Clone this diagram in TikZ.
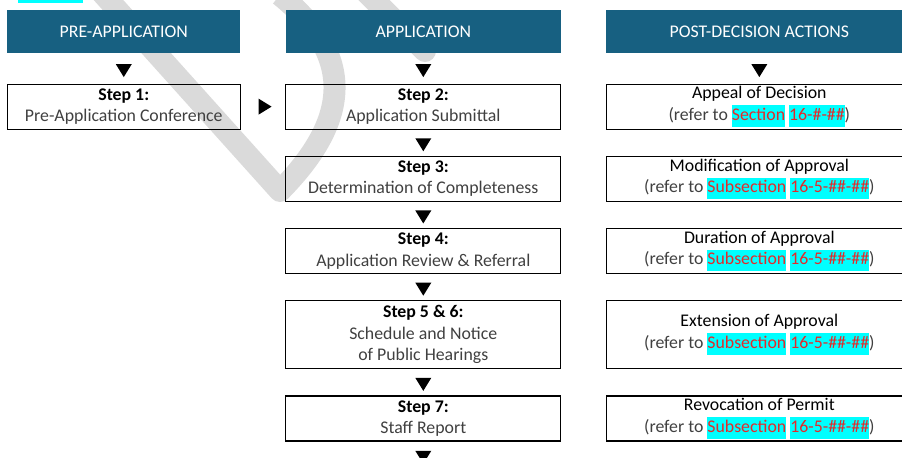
\documentclass[tikz,border=0pt]{standalone}
\usepackage{fontspec}
\setmainfont{Carlito}
\usepackage{tikz}
\usetikzlibrary{positioning,shapes.geometric}
\definecolor{headblue}{RGB}{23,96,129}
\definecolor{subgray}{RGB}{64,64,64}
\definecolor{refred}{RGB}{228,42,42}
\definecolor{hlcyan}{RGB}{0,255,255}
\definecolor{wmgray}{RGB}{218,218,218}
\newcommand{\hl}[1]{{\setlength{\fboxsep}{0pt}\colorbox{hlcyan}{\strut\textcolor{refred}{#1}}}}
\newcommand{\ttl}[1]{\textcolor{black}{#1}}

\begin{document}
\begin{tikzpicture}[x=0.75pt,y=-0.75pt,node distance=19.5pt,
font=\fontsize{13.35pt}{16.1pt}\selectfont,
head/.style={
rectangle,
fill=headblue,
text=white,
minimum height=32.25pt,
inner sep=0pt
},
stepbox/.style={
rectangle,
draw,
line width=0.9pt,
text=subgray,
align=center,
minimum height=33.75pt,
inner sep=0pt
},
colA/.style={minimum width=174.75pt},
colB/.style={minimum width=206.25pt},
colC/.style={minimum width=229.5pt},
tall/.style={minimum height=51pt},
tri/.style={isosceles triangle,isosceles triangle stretches,fill=black,inner sep=0pt,minimum width=12pt,minimum height=9.75pt},
tridown/.style={tri,shape border rotate=-90},
triright/.style={tri,shape border rotate=0},
wm/.style={draw=wmgray,line width=16.5pt,line join=round},
]
\useasboundingbox (0,0) rectangle (902,457);
\clip (0,0) rectangle (902,457);
% watermark
\draw[wm] (95,-15) -- (280,191) .. controls (345,125) and (360,60) .. (280,-5);
\draw[wm,line cap=round] (366,-8) -- (425,51);
\fill[hlcyan] (18,-1) rectangle (83,3.3);
% headers
\node (pre) [head,colA,anchor=north west] at (7,10) {PRE-APPLICATION};
\node (app) [head,colB,right=33.75pt of pre] {APPLICATION};
\node (post) [head,colC,right=33.75pt of app] {POST-DECISION ACTIONS};
% steps
\node (s1) [stepbox,colA,below=22.5pt of pre] {\ttl{\textbf{Step 1:}}\\Pre-Application Conference};
\node (s2) [stepbox,colB,below=22.5pt of app] {\ttl{\textbf{Step 2:}}\\Application Submittal};
\node (s3) [stepbox,colB,below=of s2] {\ttl{\textbf{Step 3:}}\\Determination of Completeness};
\node (s4) [stepbox,colB,below=of s3] {\ttl{\textbf{Step 4:}}\\Application Review \& Referral};
\node (s56) [stepbox,colB,tall,below=of s4] {\ttl{\textbf{Step 5 \& 6:}}\\Schedule and Notice\\of Public Hearings};
\node (s7) [stepbox,colB,below=of s56] {\ttl{\textbf{Step 7:}}\\Staff Report};
% post-decision
\node (appeal) [stepbox,colC,below=22.5pt of post] {\ttl{Appeal of Decision}\\(refer to \hl{Section} \hl{16-\#-\#\#})};
\node (modif) [stepbox,colC,below=of appeal] {\ttl{Modification of Approval}\\(refer to \hl{Subsection} \hl{16-5-\#\#-\#\#})};
\node (durat) [stepbox,colC,below=of modif] {\ttl{Duration of Approval}\\(refer to \hl{Subsection} \hl{16-5-\#\#-\#\#})};
\node (extend) [stepbox,colC,tall,below=of durat] {\ttl{Extension of Approval}\\(refer to \hl{Subsection} \hl{16-5-\#\#-\#\#})};
\node (revoke) [stepbox,colC,below=of extend] {\ttl{Revocation of Permit}\\(refer to \hl{Subsection} \hl{16-5-\#\#-\#\#})};
% arrows
\path (pre) -- (s1) node[midway,tridown] {};
\path (app) -- (s2) node[midway,tridown] {};
\path (post) -- (appeal) node[midway,tridown] {};
\path (s1) -- (s2) node[midway,triright] {};
\path (s2) -- (s3) node[midway,tridown] {};
\path (s3) -- (s4) node[midway,tridown] {};
\path (s4) -- (s56) node[midway,tridown] {};
\path (s56) -- (s7) node[midway,tridown] {};
\node (next) [tridown,below=6.75pt of s7] {};
\end{tikzpicture}
\end{document}
